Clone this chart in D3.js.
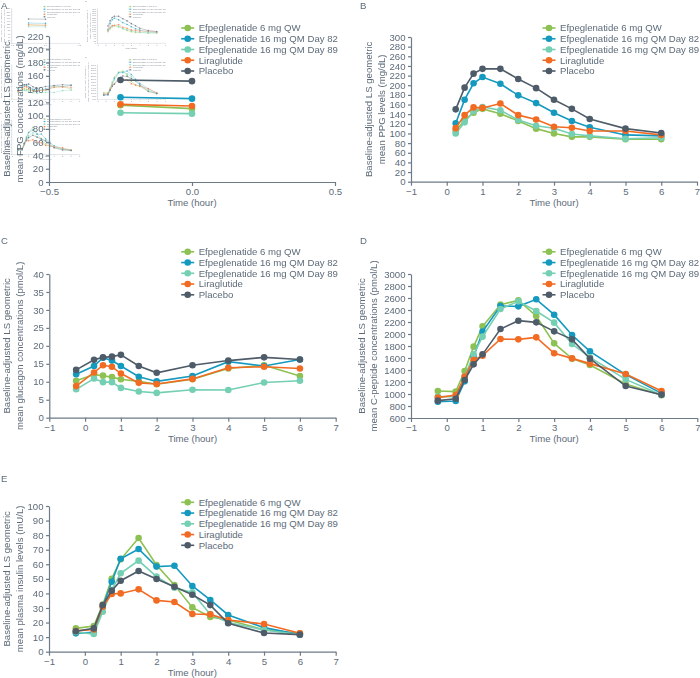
<!DOCTYPE html>
<html><head><meta charset="utf-8">
<script src="https://cdn.jsdelivr.net/npm/d3@7"></script>
<style>body{margin:0;background:#fff}svg{display:block}text{font-family:"Liberation Sans",Arial,sans-serif}</style>
</head><body><svg id="c" width="700" height="678"></svg>
<script>
const seriesNames = ["Efpeglenatide 6 mg QW","Efpeglenatide 16 mg QM Day 82","Efpeglenatide 16 mg QM Day 89","Liraglutide","Placebo"];
const seriesColors = ["#8dc153","#1499bf","#74cfb3","#f26b23","#4e5b68"];

const fpgTimes = [-0.25, 0];
const fpgValues = [
  [115.6,110.5],
  [127.6,125.6],
  [104.4,103.0],
  [117.0,114.5],
  [153.7,152.0]
];
const ppgTimes = [0.25,0.5,0.75,1,1.5,2,2.5,3,3.5,4,5,6];
const ppgValues = [
  [105,128,143,151,141,126,110,100,93,93,88,88],
  [121,170,204,217,203,179,163,143,126,113,97,95],
  [100,123,146,155,148,128,116,111,99,95,89,91],
  [111,138,154,153,162,138,129,114,112,105,105,97],
  [150,195,224,234,234,213,194,170,151,130,110,101]
];
const glucagonTimes = [-0.25,0.25,0.5,0.75,1,1.5,2,3,4,5,6];
const glucagonValues = [
  [10.3,12.0,11.7,11.3,10.7,10.1,9.3,10.7,13.7,14.6,11.6],
  [12.1,14.4,16.7,15.9,14.4,11.4,10.1,11.6,15.6,14.4,16.2],
  [7.9,10.9,9.9,9.9,8.3,7.3,6.9,7.8,7.7,9.8,10.3],
  [8.8,12.6,14.6,14.2,12.3,9.7,9.4,10.8,13.9,14.2,13.7],
  [13.3,16.1,16.8,17.0,17.5,14.4,12.5,14.6,15.9,16.8,16.2]
];
const cpepTimes = [-0.25,0.25,0.5,0.75,1,1.5,2,2.5,3,3.5,4,5,6];
const cpepValues = [
  [1050,1039,1383,1789,2128,2489,2561,2300,1844,1589,1483,1167,978],
  [872,883,1211,1622,2039,2467,2461,2578,2322,1983,1711,1322,1011],
  [956,956,1289,1661,1956,2417,2544,2383,2189,1833,1611,1244,983],
  [939,983,1289,1567,1639,1917,1911,1944,1678,1594,1506,1333,1050],
  [889,922,1233,1494,1661,2083,2222,2194,2044,1911,1589,1133,989]
];
const insulinTimes = [-0.25,0.25,0.5,0.75,1,1.5,2,2.5,3,3.5,4,5,6];
const insulinValues = [
  [16,17.6,32.3,50.1,63.4,78,59.5,45.8,30.4,23.8,21.7,15.1,12.6],
  [12.6,13.3,30.9,48,63.8,70.5,58.4,59,45.1,35.5,25.2,16.5,11.7],
  [13.5,12.1,27.5,42.3,53.8,62.5,51.5,43.9,40.7,25.6,20.1,14.9,11.7],
  [14.2,15.3,30.9,39.6,40,42.8,35.2,34.1,25.9,25.6,21.7,19,12.6],
  [14,16,32,41.9,48.7,55.4,49.9,44.6,39.1,32,19.5,12.8,11.7]
];

const hourTicks = [-1,0,1,2,3,4,5,6,7];
const fpgHourTicks = [-0.5,0,0.5];
const fpgYTicks = d3.range(0,221,20);
const ppgYTicks = d3.range(0,301,20);
const glucagonYTicks = d3.range(0,41,5);
const cpepYTicks = d3.range(600,3001,200);
const insulinYTicks = d3.range(0,101,10);
const yLabelLine1 = "Baseline-adjusted LS geometric";
const xLabel = "Time (hour)";

const panels = [
  {letter:"A", lp:[1,9], xr:[49,335], yr:[182,36], xd:[-0.5,0.5], xt:fpgHourTicks, xf:d3.format(".1f"),
   yd:[0,220], yt:fpgYTicks, times:fpgTimes, vals:fpgValues, yl2:"mean FPG concentrations (mg/dL)", ylx:[10,22.5], lx:187.7, ly:28},
  {letter:"B", lp:[360,9], xr:[411,697], yr:[181.7,37], xd:[-1,7], xt:hourTicks, xf:d3.format("d"),
   yd:[0,300], yt:ppgYTicks, times:ppgTimes, vals:ppgValues, yl2:"mean PPG levels (mg/dL)", ylx:[372,384.5], lx:549, ly:28},
  {letter:"C", lp:[1,244], xr:[49.3,335.7], yr:[417.7,274], xd:[-1,7], xt:hourTicks, xf:d3.format("d"),
   yd:[0,40], yt:glucagonYTicks, times:glucagonTimes, vals:glucagonValues, yl2:"mean glucagon concentrations (pmol/L)", ylx:[10,22.5], lx:187.7, ly:251.8},
  {letter:"D", lp:[360,244], xr:[411,697.3], yr:[418,274], xd:[-1,7], xt:hourTicks, xf:d3.format("d"),
   yd:[600,3000], yt:cpepYTicks, times:cpepTimes, vals:cpepValues, yl2:"mean C-peptide concentrations (pmol/L)", ylx:[364.5,377], lx:549, ly:251.8},
  {letter:"E", lp:[1,482], xr:[49,335.7], yr:[651.7,506], xd:[-1,7], xt:hourTicks, xf:d3.format("d"),
   yd:[0,100], yt:insulinYTicks, times:insulinTimes, vals:insulinValues, yl2:"mean plasma insulin levels (mU/L)", ylx:[10,22.5], lx:187.7, ly:502.3}
];

const TXT = "#5d6b79", AX = "#6d7a87", FS = 9.6;

function drawFigure(root, depth){
  panels.forEach(p => drawPanel(root, p, depth));
}

function drawPanel(root, p, depth){
  const g = root.append("g");
  if (p.letter === "A" && depth > 0){
    const mg = g.append("g").attr("transform","scale(0.237)").attr("opacity",0.75);
    drawFigure(mg, depth-1);
  }
  g.append("text").attr("x",p.lp[0]).attr("y",p.lp[1]).attr("font-size",FS).attr("fill",TXT).text(p.letter);
  const x = d3.scaleLinear().domain(p.xd).range(p.xr);
  const y = d3.scaleLinear().domain(p.yd).range(p.yr);

  const xa = g.append("g").attr("transform",`translate(0,${p.yr[0]})`)
    .call(d3.axisBottom(x).tickValues(p.xt).tickFormat(p.xf).tickSize(4).tickSizeOuter(0).tickPadding(2));
  const ya = g.append("g").attr("transform",`translate(${p.xr[0]},0)`)
    .call(d3.axisLeft(y).tickValues(p.yt).tickFormat(d3.format("d")).tickSize(3).tickSizeOuter(0).tickPadding(2.5));
  [xa,ya].forEach(a=>{
    a.selectAll("path,line").attr("stroke",AX).attr("stroke-width",1.2);
    a.selectAll("text").attr("fill",TXT).attr("font-size",FS).attr("font-family",'"Liberation Sans",Arial,sans-serif');
  });
  xa.selectAll("text").text(d => d < 0 ? "\u2212" + p.xf(-d) : p.xf(d));

  g.append("text").attr("x",(p.xr[0]+p.xr[1])/2).attr("y",p.yr[0]+24).attr("text-anchor","middle")
    .attr("font-size",FS).attr("fill",TXT).text(xLabel);
  const yc = (p.yr[0]+p.yr[1])/2;
  [yLabelLine1, p.yl2].forEach((t,i)=>{
    g.append("text").attr("transform",`translate(${p.ylx[i]},${yc}) rotate(-90)`).attr("text-anchor","middle")
      .attr("font-size",FS).attr("fill",TXT).text(t);
  });

  const line = d3.line().x(d=>x(d[0])).y(d=>y(d[1]));
  p.vals.forEach((vs,si)=>{
    const pts = p.times.map((t,i)=>[t,vs[i]]);
    const sg = g.append("g");
    sg.append("path").attr("d",line(pts)).attr("fill","none").attr("stroke",seriesColors[si]).attr("stroke-width",1.6);
    sg.selectAll("circle").data(pts).join("circle").attr("cx",d=>x(d[0])).attr("cy",d=>y(d[1])).attr("r",3.3).attr("fill",seriesColors[si]);
  });

  const lg = g.append("g");
  seriesNames.forEach((n,i)=>{
    const yy = p.ly + i*10.75;
    lg.append("line").attr("x1",p.lx-6.5).attr("x2",p.lx+6.5).attr("y1",yy).attr("y2",yy).attr("stroke",seriesColors[i]).attr("stroke-width",1.6);
    lg.append("circle").attr("cx",p.lx).attr("cy",yy).attr("r",3.3).attr("fill",seriesColors[i]);
    lg.append("text").attr("x",p.lx+11).attr("y",yy).attr("dy","0.35em").attr("font-size",FS).attr("fill",TXT).text(n);
  });
}

drawFigure(d3.select("#c"), 1);
</script></body></html>
